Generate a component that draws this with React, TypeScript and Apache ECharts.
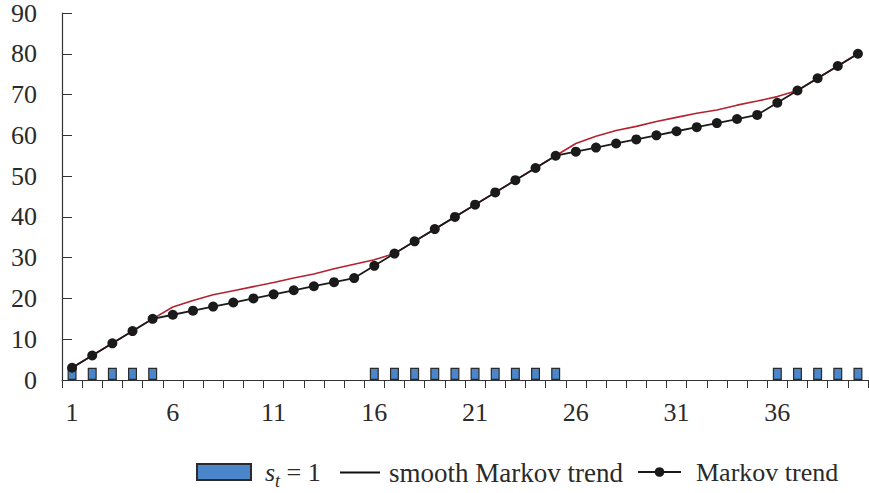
import React, { useEffect, useRef } from "react";
import * as echarts from "echarts";

const categories: string[] = Array.from({ length: 40 }, (_, i) => String(i + 1));

const regimeBars: (number | null)[] = [
  3, 3, 3, 3, 3, null, null, null, null, null,
  null, null, null, null, null, 3, 3, 3, 3, 3,
  3, 3, 3, 3, 3, null, null, null, null, null,
  null, null, null, null, null, 3, 3, 3, 3, 3,
];

const markovTrend: number[] = [
  3, 6, 9, 12, 15, 16, 17, 18, 19, 20,
  21, 22, 23, 24, 25, 28, 31, 34, 37, 40,
  43, 46, 49, 52, 55, 56, 57, 58, 59, 60,
  61, 62, 63, 64, 65, 68, 71, 74, 77, 80,
];

const smoothTrend: number[] = [
  3, 6, 9, 12, 15, 17.9, 19.5, 20.9, 21.9, 22.9,
  23.9, 25.0, 26.0, 27.3, 28.4, 29.5, 31, 34, 37, 40,
  43, 46, 49, 52, 55, 58.0, 59.8, 61.2, 62.2, 63.4,
  64.4, 65.4, 66.2, 67.4, 68.4, 69.5, 71, 74, 77, 80,
];

const yTicks = { min: 0, max: 90, interval: 10 };

const FONT = "'Liberation Serif', 'DejaVu Serif', serif";
const TEXT = "#2a2a2a";
const AXIS = "#333";

export default function App() {
  const ref = useRef<HTMLDivElement>(null);
  useEffect(() => {
    if (!ref.current) return;
    const chart = echarts.init(ref.current, undefined, { renderer: "svg" });
    const legendText = { fontFamily: FONT, fontSize: 26, color: TEXT };
    chart.setOption({
      animation: false,
      textStyle: { fontFamily: FONT },
      grid: { left: 62, right: 1, top: 7, bottom: 113, containLabel: false },
      xAxis: {
        type: "category",
        data: categories,
        boundaryGap: true,
        axisLine: { show: true, lineStyle: { color: AXIS, width: 1.2 } },
        axisTick: { show: true, interval: 0, length: 8, inside: false, lineStyle: { color: AXIS } },
        axisLabel: { interval: 4, margin: 19, fontFamily: FONT, fontSize: 26, color: TEXT },
        splitLine: { show: false },
      },
      yAxis: {
        type: "value",
        min: yTicks.min,
        max: yTicks.max,
        interval: yTicks.interval,
        axisLine: { show: true, lineStyle: { color: AXIS, width: 1.2 } },
        axisTick: { show: true, inside: true, length: 10, lineStyle: { color: AXIS } },
        axisLabel: { margin: 25, fontFamily: FONT, fontSize: 26, color: TEXT, padding: [2, 0, 0, 0] },
        splitLine: { show: false },
      },
      legend: [
        {
          data: [{ name: "s_t = 1", icon: "rect" }],
          left: 196,
          top: 459,
          padding: 0,
          itemWidth: 54,
          itemHeight: 16,
          textStyle: {
            ...legendText,
            padding: [0, 0, 0, 9],
            rich: {
              i: { fontFamily: FONT, fontSize: 26, fontStyle: "italic", color: TEXT },
              sub: { fontFamily: FONT, fontSize: 18, fontStyle: "italic", color: TEXT, verticalAlign: "bottom", padding: [18, 0, 0, 0] },
              n: { fontFamily: FONT, fontSize: 26, color: TEXT },
            },
          },
          formatter: () => "{i|s}{sub|t}{n| = 1}",
        },
        {
          data: [{ name: "smooth Markov trend", icon: "rect", itemStyle: { color: "#111" } }],
          left: 340,
          top: 459,
          padding: 0,
          itemWidth: 40,
          itemHeight: 2,
          textStyle: { ...legendText, fontSize: 27, padding: [0, 0, 0, 4] },
        },
        {
          data: ["Markov trend"],
          left: 637,
          top: 459,
          padding: 0,
          itemWidth: 43,
          itemHeight: 12,
          textStyle: { ...legendText, padding: [0, 0, 0, 10] },
        },
      ],
      series: [
        {
          name: "s_t = 1",
          type: "bar",
          data: regimeBars,
          barWidth: 9,
          itemStyle: { color: "#4a86c9", borderColor: "#2a2a2a", borderWidth: 1.2 },
          z: 2,
        },
        {
          name: "smooth Markov trend",
          type: "line",
          data: smoothTrend,
          symbol: "none",
          lineStyle: { color: "#b3222f", width: 1.6 },
          itemStyle: { color: "#b3222f" },
          z: 3,
        },
        {
          name: "Markov trend",
          type: "line",
          data: markovTrend,
          symbol: "circle",
          symbolSize: 10,
          lineStyle: { color: "#1a1a1a", width: 1.8 },
          itemStyle: { color: "#1a1a1a" },
          z: 4,
        },
      ],
    });
    return () => chart.dispose();
  }, []);
  return (
    <div
      ref={ref}
      style={{ position: "fixed", left: 0, top: 0, width: 869, height: 493, background: "#fff" }}
    />
  );
}
